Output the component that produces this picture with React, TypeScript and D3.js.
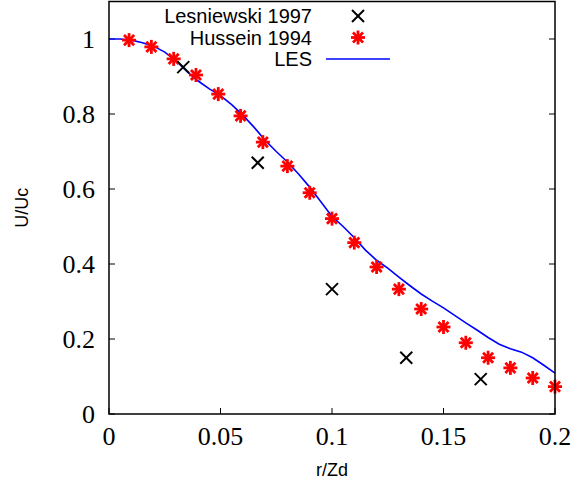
import React from "react";
import * as d3 from "d3";

const xTicks = [0, 0.05, 0.1, 0.15, 0.2];
const xTickLabels = ["0", "0.05", "0.1", "0.15", "0.2"];
const yTicks = [0, 0.2, 0.4, 0.6, 0.8, 1];
const yTickLabels = ["0", "0.2", "0.4", "0.6", "0.8", "1"];

const lesX = [0.0333, 0.0667, 0.1, 0.1333, 0.1667];
const lesY = [0.925, 0.67, 0.333, 0.15, 0.093];

const husX = [0.009, 0.019, 0.029, 0.039, 0.049, 0.059, 0.069, 0.08, 0.09, 0.1, 0.11, 0.12, 0.13, 0.14, 0.15, 0.16, 0.17, 0.18, 0.19, 0.2];
const husY = [0.997, 0.979, 0.947, 0.904, 0.853, 0.795, 0.725, 0.661, 0.59, 0.521, 0.457, 0.392, 0.333, 0.28, 0.232, 0.19, 0.15, 0.123, 0.096, 0.073];

const lineX = [0, 0.005, 0.01, 0.015, 0.02, 0.025, 0.03, 0.035, 0.04, 0.045, 0.05, 0.055, 0.06, 0.065, 0.07, 0.075, 0.08, 0.085, 0.09, 0.095, 0.1, 0.105, 0.11, 0.115, 0.12, 0.125, 0.13, 0.135, 0.14, 0.145, 0.15, 0.155, 0.16, 0.165, 0.17, 0.175, 0.18, 0.185, 0.19, 0.195, 0.2];
const lineY = [1.0, 1.0, 0.997, 0.99, 0.981, 0.965, 0.942, 0.913, 0.888, 0.867, 0.849, 0.825, 0.797, 0.765, 0.73, 0.70, 0.672, 0.64, 0.605, 0.566, 0.527, 0.5, 0.47, 0.437, 0.41, 0.389, 0.365, 0.342, 0.32, 0.301, 0.283, 0.263, 0.243, 0.224, 0.204, 0.186, 0.174, 0.165, 0.15, 0.13, 0.109];

const legendLabels = ["Lesniewski 1997", "Hussein 1994", "LES"];

const W = 576, H = 481;
const L = 109, R = 555, T = 1.5, B = 414;
const SERIF = "'Liberation Serif', 'Times New Roman', Times, serif";
const SANS = "'Liberation Sans', Arial, Helvetica, sans-serif";

function Star({ cx, cy }: { cx: number; cy: number }) {
  const r = 7;
  const d = r * 0.72;
  return (
    <g stroke="#ff0000" strokeWidth={2.8}>
      <line x1={cx - r} y1={cy} x2={cx + r} y2={cy} />
      <line x1={cx} y1={cy - r} x2={cx} y2={cy + r} />
      <line x1={cx - d} y1={cy - d} x2={cx + d} y2={cy + d} />
      <line x1={cx - d} y1={cy + d} x2={cx + d} y2={cy - d} />
    </g>
  );
}

function Cross({ cx, cy }: { cx: number; cy: number }) {
  const r = 6;
  return (
    <g stroke="#000" strokeWidth={2}>
      <line x1={cx - r} y1={cy - r} x2={cx + r} y2={cy + r} />
      <line x1={cx - r} y1={cy + r} x2={cx + r} y2={cy - r} />
    </g>
  );
}

export default function App() {
  const x = d3.scaleLinear().domain([0, 0.2]).range([L, R]);
  const y = d3.scaleLinear().domain([0, 1.1]).range([B, T]);
  const line = d3.line<number>().x((_, i) => x(lineX[i])).y((v) => y(v));
  const lineD = line(lineY) || "";

  const legendTextX = 312;
  const legendSymX = 358;
  const legendRows = [16, 37.5, 59];

  return (
    <svg width={W} height={H} style={{ position: "absolute", left: 0, top: 0, background: "#fff" }}>
      <rect x={0} y={0} width={W} height={H} fill="#fff" />
      {xTicks.map((t, i) => (
        <g key={"xt" + i}>
          <line x1={x(t)} x2={x(t)} y1={B} y2={B - 6} stroke="#000" strokeWidth={1} />
          <text x={x(t)} y={445} textAnchor="middle" fontFamily={SERIF} fontSize={26} fill="#000">
            {xTickLabels[i]}
          </text>
        </g>
      ))}
      {yTicks.map((t, i) => (
        <g key={"yt" + i}>
          <line x1={L} x2={L + 6} y1={y(t)} y2={y(t)} stroke="#000" strokeWidth={1} />
          <line x1={R} x2={R - 6} y1={y(t)} y2={y(t)} stroke="#000" strokeWidth={1} />
          <text x={95} y={y(t)} dy="0.34em" textAnchor="end" fontFamily={SERIF} fontSize={26} fill="#000">
            {yTickLabels[i]}
          </text>
        </g>
      ))}
      <text x={(L + R) / 2} y={476} textAnchor="middle" fontFamily={SANS} fontSize={18} fill="#000">r/Zd</text>
      <text transform={`translate(28,${(T + B) / 2}) rotate(-90)`} textAnchor="middle" fontFamily={SANS} fontSize={18} fill="#000">U/Uc</text>

      <path d={lineD} fill="none" stroke="#0000ff" strokeWidth={1.6} />
      {husX.map((v, i) => (
        <Star key={"h" + i} cx={x(v)} cy={y(husY[i])} />
      ))}
      {lesX.map((v, i) => (
        <Cross key={"l" + i} cx={x(v)} cy={y(lesY[i])} />
      ))}

      {legendLabels.map((s, i) => (
        <text key={"lg" + i} x={legendTextX} y={legendRows[i]} dy="0.35em" textAnchor="end" fontFamily={SANS} fontSize={20} fill="#000">
          {s}
        </text>
      ))}
      <Cross cx={legendSymX} cy={legendRows[0]} />
      <Star cx={legendSymX} cy={legendRows[1]} />
      <line x1={326} x2={390} y1={legendRows[2]} y2={legendRows[2]} stroke="#0000ff" strokeWidth={1.6} />

      <rect x={L} y={T} width={R - L} height={B - T} fill="none" stroke="#000" strokeWidth={1.5} />
    </svg>
  );
}
